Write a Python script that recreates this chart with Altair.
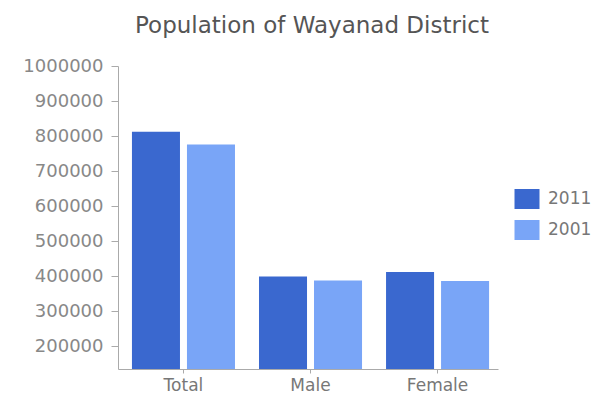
import altair as alt
import pandas as pd

categories = ["Total", "Male", "Female"]
years = ["2011", "2001"]
pop_2011 = [812000, 399000, 412000]
pop_2001 = [776000, 388000, 386000]
y_ticks = [200000, 300000, 400000, 500000, 600000, 700000, 800000, 900000, 1000000]
colors = ["#3a68cf", "#79a5f7"]

rows = []
for c, a, b in zip(categories, pop_2011, pop_2001):
    rows.append({"cat": c, "year": "2011", "pop": a})
    rows.append({"cat": c, "year": "2001", "pop": b})
df = pd.DataFrame(rows)

W, H = 380, 303
FONT = "DejaVu Sans"

chart = alt.Chart(df).mark_bar(clip=True).encode(
    x=alt.X("cat:N", sort=categories, title=None,
            scale=alt.Scale(paddingInner=0.189, paddingOuter=0.09, align=0.61),
            axis=alt.Axis(labelAngle=0, labelFontSize=17, labelColor="#777",
                          labelFont=FONT,
                          domainColor="#aaa", tickColor="#aaa", tickSize=4,
                          labelPadding=4, grid=False)),
    xOffset=alt.XOffset("year:N", sort=years,
                        scale=alt.Scale(paddingInner=0.127, paddingOuter=0)),
    y=alt.Y("pop:Q", title=None,
            scale=alt.Scale(domain=[135000, 1000000], zero=False, nice=False),
            axis=alt.Axis(values=y_ticks, format="d", labelFontSize=18,
                          labelFont=FONT,
                          labelColor="#888", domainColor="#aaa", tickColor="#aaa",
                          tickSize=7, labelPadding=8, grid=False)),
    y2=alt.value(H),
    color=alt.Color("year:N", sort=years,
                    scale=alt.Scale(domain=years, range=colors),
                    legend=alt.Legend(title=None, orient="none", legendX=399, legendY=123,
                                      symbolType="M-1.25,-1L1.25,-1L1.25,1L-1.25,1Z",
                                      symbolSize=400,
                                      symbolStrokeWidth=0, labelFontSize=17,
                                      labelFont=FONT,
                                      labelColor="#777", rowPadding=11,
                                      labelOffset=11)),
).properties(
    width=W, height=H,
    title=alt.TitleParams("Population of Wayanad District", fontSize=23,
                          color="#555", fontWeight="normal", anchor="middle",
                          offset=19, dx=4, font=FONT),
    autosize=alt.AutoSizeParams(type="none"),
    padding={"left": 110, "top": 58, "right": 99, "bottom": 30},
).configure(font=FONT).configure_view(strokeWidth=0, stroke="transparent")

chart.save("out.html", embed_options={"renderer": "svg", "actions": False})
